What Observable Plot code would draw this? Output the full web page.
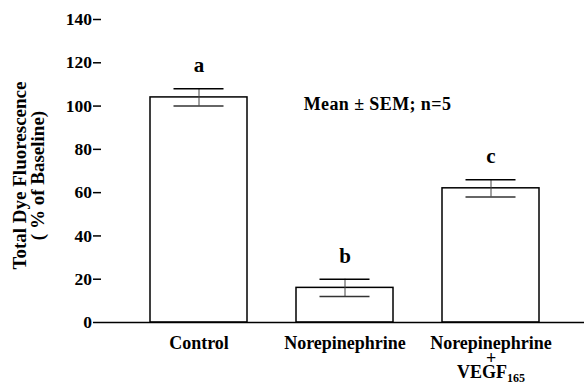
<!DOCTYPE html>
<html><head><meta charset="utf-8">
<script src="https://cdn.jsdelivr.net/npm/d3@7"></script>
<script src="https://cdn.jsdelivr.net/npm/@observablehq/plot@0.6"></script>
<style>
html,body{margin:0;padding:0;background:#fff;}
#chart svg{display:block;background:#fff;}
#chart svg, #chart svg text{font-family:"Liberation Serif","Times New Roman",serif !important;font-weight:bold;}
</style></head><body><div id="chart"></div>
<script>
const categories = ["Control", "Norepinephrine", "Norepinephrine + VEGF165"];
const tickLabels = ["Control", "Norepinephrine", "Norepinephrine\n+\nVEGF165"];
const means = [104, 16, 62];
const sems = [4, 4, 4];
const letters = ["a", "b", "c"];
const yTicks = [0, 20, 40, 60, 80, 100, 120, 140];
const yTitle = "Total Dye Fluorescence\n( % of Baseline)";
const note = "Mean \u00b1 SEM; n=5";

const data = categories.map((c, i) => ({cat: c, mean: means[i], lo: means[i] - sems[i], hi: means[i] + sems[i], letter: letters[i]}));

const chart = Plot.plot({
  width: 584, height: 391,
  marginLeft: 101, marginRight: 0, marginTop: 19, marginBottom: 69,
  x: {type: "band", domain: categories, paddingInner: 0.336, paddingOuter: 0.322, align: 0.52},
  y: {domain: [0, 140]},
  marks: [
    Plot.rectY(data, {x: "cat", y: "mean", fill: "white", stroke: "black", strokeWidth: 1.5}),
    Plot.ruleX(data, {x: "cat", y1: "lo", y2: "hi", stroke: "#444", strokeWidth: 1}),
    Plot.tickY(data, {x: "cat", y: "hi", stroke: "black", strokeWidth: 1.5, insetLeft: 23.5, insetRight: 23.5}),
    Plot.tickY(data, {x: "cat", y: "lo", stroke: "#333", strokeWidth: 1.5, insetLeft: 23.5, insetRight: 23.5}),
    Plot.text(data, {x: "cat", y: "hi", text: "letter", dy: -23, fontSize: 21, fontWeight: "bold"}),
    Plot.text([note], {frameAnchor: "top", text: d => d, dx: 34.5, dy: 78, fontSize: 18, fontWeight: "bold"}),
    Plot.axisY({ticks: yTicks, tickSize: 8, tickPadding: 1.5, fontSize: 17.5, fontWeight: "bold", label: null, line: true, strokeWidth: 1.5}),
    Plot.axisX({tickSize: 0, tickPadding: 16, tickFormat: d => tickLabels[categories.indexOf(d)], fontSize: 18, fontWeight: "bold", lineHeight: 0.82, label: null}),
    Plot.ruleY([0], {stroke: "black", strokeWidth: 1.5}),
    Plot.text([yTitle], {frameAnchor: "left", textAnchor: "middle", text: d => d, rotate: -90, dx: -72, dy: 4.5, fontSize: 19, fontWeight: "bold", lineHeight: 0.95})
  ]
});
document.getElementById("chart").appendChild(chart);
chart.querySelectorAll("text").forEach(el => {
  if (el.textContent === note) el.style.letterSpacing = "0.4px";
});
// subscript for VEGF165
chart.querySelectorAll("tspan, text").forEach(el => {
  if (el.childNodes.length === 1 && el.childNodes[0].nodeType === 3 && el.textContent === "VEGF165") {
    el.textContent = "VEGF";
    const sub = document.createElementNS("http://www.w3.org/2000/svg", "tspan");
    sub.setAttribute("font-size", "12");
    sub.setAttribute("dy", "4");
    sub.textContent = "165";
    el.appendChild(sub);
  }
});
</script>
</body></html>
